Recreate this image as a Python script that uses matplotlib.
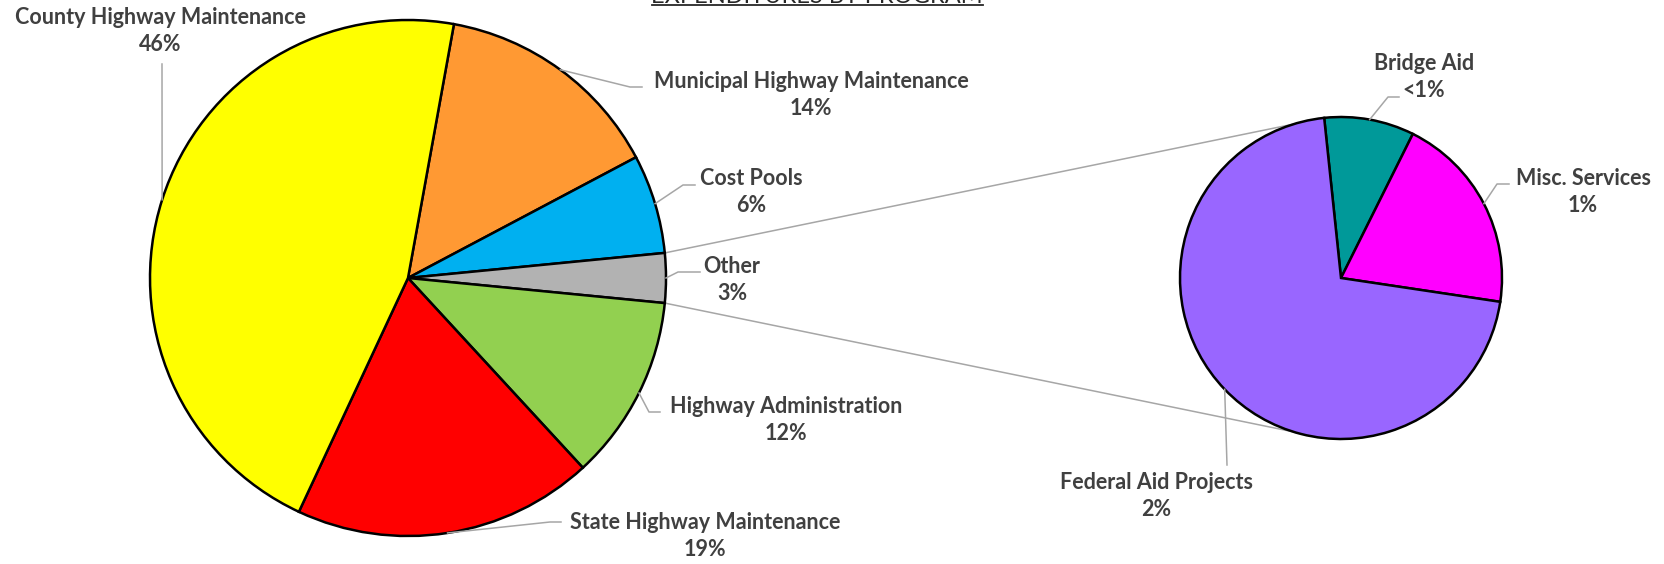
import numpy as np
import matplotlib.pyplot as plt

# main pie (percent of total expenditures)
main_names = ['Municipal Highway Maintenance', 'Cost Pools', 'Other',
              'Highway Administration', 'State Highway Maintenance',
              'County Highway Maintenance']
main_vals = [14.4, 6.2, 3.1, 11.6, 18.8, 45.9]
main_pct = ['14%', '6%', '3%', '12%', '19%', '46%']
main_colors = ['#FF9933', '#00B0F0', '#B2B2B2', '#92D050', '#FF0000', '#FFFF00']

# second pie: breakdown of "Other"
sub_names = ['Bridge Aid', 'Misc. Services', 'Federal Aid Projects']
sub_vals = [0.28, 0.62, 2.2]
sub_pct = ['<1%', '1%', '2%']
sub_colors = ['#009999', '#FF00FF', '#9966FF']

W, H = 1664, 564
TXT = '#404040'
LEAD = '#A6A6A6'


def P(x, y):
    # layout is written in pixels from the top-left corner
    return x, H - y


fig = plt.figure(figsize=(W / 100, H / 100), dpi=100)
ax = fig.add_axes([0, 0, 1, 1])

c1, r1 = P(408, 278), 258
c2, r2 = P(1341, 278), 161

# "Other" slice centred on the horizontal
other_i = main_names.index('Other')
start = (sum(main_vals[:other_i]) + main_vals[other_i] / 2) / sum(main_vals) * 360
w1, _ = ax.pie(main_vals, colors=main_colors, startangle=start, counterclock=False,
               center=c1, radius=r1, frame=True,
               wedgeprops=dict(edgecolor='black', linewidth=1.8))
w2, _ = ax.pie(sub_vals, colors=sub_colors, startangle=96, counterclock=False,
               center=c2, radius=r2, frame=True,
               wedgeprops=dict(edgecolor='black', linewidth=1.8))
ax.set_xlim(0, W)
ax.set_ylim(0, H)
ax.set_aspect('equal')
ax.axis('off')


def edge_pt(c, r, ang):
    a = np.radians(ang)
    return c[0] + r * np.cos(a), c[1] + r * np.sin(a)


# label layout: text centre, leader points after the wedge edge
main_layout = [
    ((811, 95), [(630, 87), (642, 87)]),
    ((751, 192), [(683, 185), (695, 185)]),
    ((732, 280), [(678, 272), (700, 272)]),
    ((786, 420), [(649, 412), (660, 412)]),
    ((705, 536), [(550, 522), (561, 522)]),
    ((160, 31), [(162, 64)]),
]
sub_layout = [
    ((1424, 77), [(1388, 97), (1399, 97)]),
    ((1583, 192), [(1497, 184), (1509, 184)]),
    ((1156, 496), [(1227, 465)]),
]


def label(w, c, r, name, pct, pos, pts):
    e = edge_pt(c, r, (w.theta1 + w.theta2) / 2)
    pts = [P(*p) for p in pts]
    xs = [e[0]] + [p[0] for p in pts]
    ys = [e[1]] + [p[1] for p in pts]
    ax.plot(xs, ys, color=LEAD, lw=1.1, zorder=1)
    ax.text(*P(*pos), name + '\n' + pct, ha='center', va='center',
            fontsize=15.5, fontweight='bold', color=TXT, family='Lato',
            linespacing=1.3)


for w, n, p, (pos, pts) in zip(w1, main_names, main_pct, main_layout):
    label(w, c1, r1, n, p, pos, pts)
for w, n, p, (pos, pts) in zip(w2, sub_names, sub_pct, sub_layout):
    label(w, c2, r2, n, p, pos, pts)

# connector lines between the "Other" slice and the second pie
wo = w1[other_i]
for a_main, a_sub in [(wo.theta2, 107), (wo.theta1, -107)]:
    p1 = edge_pt(c1, r1, a_main)
    p2 = edge_pt(c2, r2, a_sub)
    ax.plot([p1[0], p2[0]], [p1[1], p2[1]], color=LEAD, lw=1.1, zorder=0)

# title, mostly cut off at the top edge
ax.text(*P(817, 3), 'EXPENDITURES BY PROGRAM', ha='center', va='baseline',
        fontsize=17, color='#262626', family='Lato', clip_on=False)
ax.plot([652, 983], [H - 5, H - 5], color='#262626', lw=1.3)

fig.savefig('out.png', dpi=100)
